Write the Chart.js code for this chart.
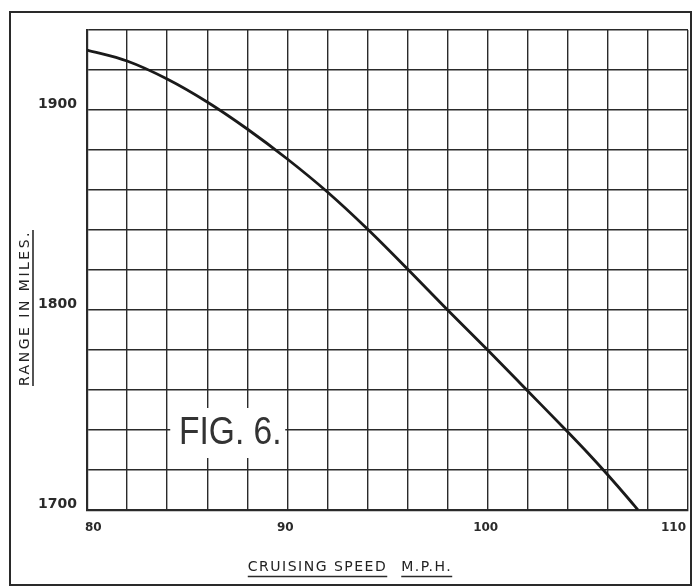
<!DOCTYPE html>
<html>
<head>
<meta charset="utf-8">
<script src="https://cdn.jsdelivr.net/npm/chart.js@4"></script>
<style>
  html, body { margin: 0; padding: 0; background: #fff; }
  #wrap { width: 696px; height: 588px; }
</style>
</head>
<body>
<div id="wrap"><canvas id="chart-range" width="696" height="588"></canvas></div>
<script>
// cruising speed (m.p.h.) and range (miles)
let speeds = [80, 82, 84, 86, 88, 90, 92, 94, 96, 98, 100, 102, 104, 105, 106, 107, 107.5];
let ranges = [1930, 1924.5, 1915.5, 1904, 1890.5, 1875.5, 1859, 1840.5, 1820.5, 1800, 1780, 1759.5, 1739, 1728.5, 1717.5, 1706, 1700];

// labelled ticks
let xTickLabels = [80, 90, 100, 110];
let yTickLabels = [1700, 1800, 1900];

let inkColor = '#2a2a2a';

// frame, axis titles and the figure label
let paperPlugin = {
    id: 'paper',
    afterDraw(chart) {
        let ctx = chart.ctx;
        let xs = chart.scales.x;
        let ys = chart.scales.y;
        ctx.save();

        // outer frame
        ctx.strokeStyle = inkColor;
        ctx.lineWidth = 2;
        ctx.strokeRect(10, 12, 681, 573);

        ctx.fillStyle = '#222';
        ctx.font = '14px "DejaVu Sans"';
        ctx.letterSpacing = '1.5px';
        ctx.textBaseline = 'alphabetic';

        // x title, underlined in two pieces
        let partA = 'CRUISING SPEED';
        let partB = 'M.P.H.';
        let gap = 14;
        let wA = ctx.measureText(partA).width;
        let wB = ctx.measureText(partB).width;
        let startX = 350 - (wA + gap + wB) / 2;
        ctx.fillText(partA, startX, 571);
        ctx.fillText(partB, startX + wA + gap, 571);
        ctx.lineWidth = 1.6;
        ctx.beginPath();
        ctx.moveTo(startX, 576.5);
        ctx.lineTo(startX + wA, 576.5);
        ctx.moveTo(startX + wA + gap, 576.5);
        ctx.lineTo(startX + wA + gap + wB, 576.5);
        ctx.stroke();

        // y title, rotated and underlined
        let yTitle = 'RANGE IN MILES.';
        ctx.letterSpacing = '2.5px';
        let wY = ctx.measureText(yTitle).width;
        ctx.translate(29, 308);
        ctx.rotate(-Math.PI / 2);
        ctx.fillText(yTitle, -wY / 2, 0);
        ctx.beginPath();
        ctx.moveTo(-wY / 2, 4);
        ctx.lineTo(wY / 2, 4);
        ctx.stroke();
        ctx.setTransform(1, 0, 0, 1, 0, 0);

        // FIG. 6. on a white patch over the grid
        let cx = xs.getPixelForValue(87.15);
        let cy = ys.getPixelForValue(1739);
        ctx.fillStyle = '#fff';
        ctx.fillRect(cx - 60, cy - 24, 115, 50);
        ctx.fillStyle = '#333';
        ctx.font = '39px "Liberation Sans"';
        ctx.letterSpacing = '0px';
        ctx.textAlign = 'center';
        ctx.textBaseline = 'middle';
        ctx.translate(cx, cy + 1);
        ctx.scale(0.86, 1);
        ctx.fillText('FIG. 6.', 0, 0);
        ctx.restore();
    }
};

let chartRange = document.getElementById('chart-range').getContext('2d');

let rangeChart = new Chart(chartRange, {
    type: 'line',
    data: {
        datasets: [{
            label: 'Range',
            data: speeds.map((s, i) => ({ x: s, y: ranges[i] })),
            borderColor: '#1a1a1a',
            borderWidth: 2.8,
            pointRadius: 0,
            cubicInterpolationMode: 'monotone',
            fill: false
        }]
    },
    options: {
        responsive: false,
        animation: false,
        layout: { padding: { left: 0, right: 8, top: 30, bottom: 0 } },
        plugins: {
            legend: { display: false },
            tooltip: { enabled: false }
        },
        scales: {
            x: {
                type: 'linear',
                min: 80,
                max: 110,
                ticks: {
                    stepSize: 2,
                    padding: 11,
                    align: 'inner',
                    labelOffset: -2,
                    maxRotation: 0,
                    autoSkip: false,
                    color: '#2a2a2a',
                    font: { family: 'DejaVu Sans', size: 12, weight: 'bold' },
                    callback: v => xTickLabels.includes(v) ? String(v) : ''
                },
                grid: { color: inkColor, lineWidth: 1.4, drawTicks: false },
                border: { color: inkColor, width: 2.2 },
                afterFit: scale => {
                    scale.height = 78;
                    scale.paddingLeft = 0;
                    scale.paddingRight = 0;
                }
            },
            y: {
                min: 1700,
                max: 1940,
                ticks: {
                    stepSize: 20,
                    padding: 10,
                    labelOffset: -6,
                    autoSkip: false,
                    color: '#2a2a2a',
                    font: { family: 'DejaVu Sans', size: 14, weight: 'bold' },
                    callback: v => yTickLabels.includes(v) ? String(v) : ''
                },
                grid: { color: inkColor, lineWidth: 1.4, drawTicks: false },
                border: { color: inkColor, width: 2.2 },
                afterFit: scale => {
                    scale.width = 87;
                    scale.paddingTop = 0;
                    scale.paddingBottom = 0;
                }
            }
        }
    },
    plugins: [paperPlugin]
});
</script>
</body>
</html>
